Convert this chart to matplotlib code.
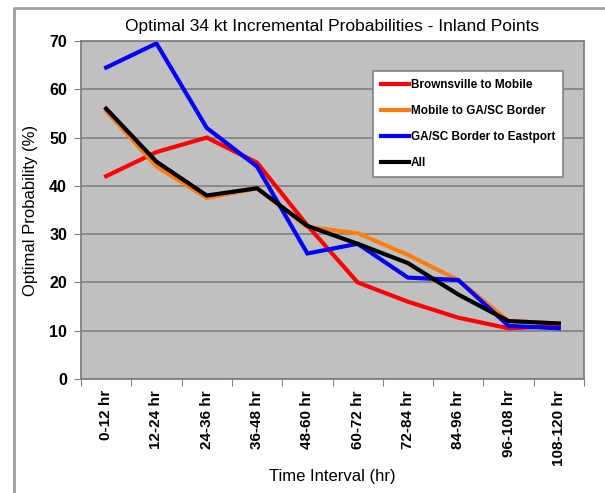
import matplotlib.pyplot as plt
from matplotlib.lines import Line2D

plt.rcParams['font.family'] = ['Liberation Sans', 'DejaVu Sans']

intervals = ['0-12 hr', '12-24 hr', '24-36 hr', '36-48 hr', '48-60 hr',
             '60-72 hr', '72-84 hr', '84-96 hr', '96-108 hr', '108-120 hr']
brownsville = [42, 47, 50, 44.8, 31.8, 20, 16, 12.7, 10.5, 11]
mobile = [55.5, 44, 37.5, 39.5, 31.5, 30.2, 25.7, 20.5, 12, 11.5]
gasc = [64.5, 69.5, 52, 44, 26, 28, 21, 20.5, 11, 10.5]
all_pts = [56, 45, 38, 39.5, 31.7, 28, 24, 17.5, 12, 11.5]

names = ['Brownsville to Mobile', 'Mobile to GA/SC Border',
         'GA/SC Border to Eastport', 'All']
colors = ['#ff0000', '#ff7f0e', '#0000ff', '#000000']

fig = plt.figure(figsize=(6.05, 4.93), dpi=100)
ax = fig.add_axes([81/605, 1-379/493, (584-81)/605, (379-41)/493])

x = range(len(intervals))
for vals, c, n in zip([brownsville, mobile, gasc, all_pts], colors, names):
    ax.plot(x, vals, color=c, lw=3, label=n, solid_joinstyle='miter')

ax.set_facecolor('#c0c0c0')
ax.set_xlim(-0.5, len(intervals) - 0.5)
ax.set_ylim(0, 70)
ax.set_yticks(range(0, 71, 10))
ax.yaxis.grid(True, color='#808080', lw=1.2)
ax.set_axisbelow(True)
ax.set_xticks([i - 0.5 for i in range(len(intervals) + 1)], minor=False)
ax.set_xticklabels([])
ax.set_xticks(list(x), minor=True)
ax.set_xticklabels(intervals, minor=True, rotation=90, fontsize=11, fontweight='bold')
ax.tick_params(axis='x', which='minor', length=0, pad=8)
ax.tick_params(axis='x', which='major', length=5, color='#808080', direction='out')
ax.tick_params(axis='y', length=5, color='#808080', labelsize=11.5, pad=5)
for lab in ax.get_yticklabels():
    lab.set_fontweight('bold')
for s in ax.spines.values():
    s.set_color('#808080')
    s.set_linewidth(1.3)

ax.set_title('Optimal 34 kt Incremental Probabilities - Inland Points', fontsize=12.5, pad=7)
ax.set_xlabel('Time Interval (hr)', fontsize=12, labelpad=2)
ax.set_ylabel('Optimal Probability (%)', fontsize=12, labelpad=8)

leg = ax.legend(loc='upper left', bbox_to_anchor=(373/605, 1-71/493),
                bbox_transform=fig.transFigure, frameon=True, fancybox=False,
                framealpha=1, facecolor='white',
                prop={'size': 8.5, 'weight': 'bold'}, handlelength=2.4,
                handletextpad=0.15, labelspacing=1.2, borderpad=0.65,
                borderaxespad=0)
leg.get_frame().set_edgecolor('#808080')
leg.get_frame().set_linewidth(1.2)

fig.add_artist(Line2D([14/605, 14/605, 1], [0, 1-7.5/493, 1-7.5/493],
                      transform=fig.transFigure, color='#a0a0a0', lw=2))

fig.savefig('out.png', dpi=100)
